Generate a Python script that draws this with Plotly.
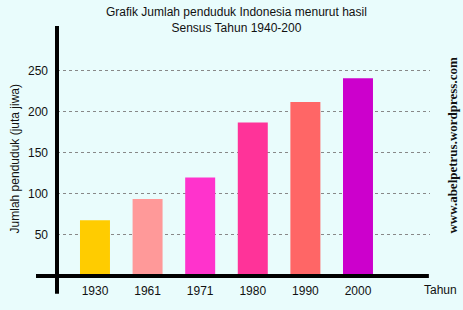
import plotly.graph_objects as go

years = ["1930", "1961", "1971", "1980", "1990", "2000"]
population = [68, 94, 120, 187, 212, 241]
bar_colors = ["#FFCC00", "#FF9999", "#FF33CC", "#FF3399", "#FF6666", "#CC00CC"]
y_ticks = [50, 100, 150, 200, 250]

bg = "#E9FCFC"
font = "Liberation Sans, Arial, sans-serif"

fig = go.Figure(go.Bar(
    x=list(range(len(years))), y=population,
    marker=dict(color=bar_colors, line=dict(width=0)),
    width=0.57,
))

fig.update_layout(
    width=463, height=310,
    margin=dict(l=57, r=33, t=26, b=31),
    paper_bgcolor=bg, plot_bgcolor=bg,
    showlegend=False,
    font=dict(family=font, size=12, color="#111111"),
    xaxis=dict(range=[-0.722, 6.369], tickvals=list(range(len(years))), ticktext=years,
               showgrid=False, zeroline=False, showline=False, ticks="",
               ticklabelstandoff=6, tickfont=dict(size=12)),
    yaxis=dict(range=[0, 304.8], tickvals=y_ticks, showgrid=True, gridcolor="#888888",
               griddash="dot", gridwidth=1, zeroline=False, showline=False, ticks="",
               ticklabelstandoff=8, tickfont=dict(size=12)),
    shapes=[
        dict(type="line", xref="paper", yref="paper", x0=0, x1=0, y0=-0.071, y1=1,
             line=dict(color="black", width=4)),
        dict(type="line", xref="paper", yref="paper", x0=-0.0563, x1=0.997, y0=0, y1=0,
             line=dict(color="black", width=4)),
    ],
    annotations=[
        dict(text="Grafik Jumlah penduduk Indonesia menurut hasil<br>Sensus Tahun 1940-200",
             xref="paper", yref="paper", x=(236 - 57) / 373, y=1 + (26 - 20) / 253,
             xanchor="center", yanchor="middle", showarrow=False,
             font=dict(size=12, family=font, color="#111111")),
        dict(text="Jumlah penduduk (juta jiwa)", textangle=-90,
             xref="paper", yref="paper", x=(15 - 57) / 373, y=(279 - 161) / 253,
             xanchor="center", yanchor="middle", showarrow=False,
             font=dict(size=12, family=font, color="#111111")),
        dict(text="Tahun", xref="paper", yref="paper", x=(440 - 57) / 373, y=-(293 - 279) / 253,
             xanchor="center", yanchor="middle", showarrow=False,
             font=dict(size=12, family=font, color="#111111")),
        dict(text="<b>www.abelpetrus.wordpress.com</b>", textangle=-90,
             xref="paper", yref="paper", x=(453 - 57) / 373, y=(279 - 147) / 253,
             xanchor="center", yanchor="middle", showarrow=False,
             font=dict(size=13, family="Liberation Serif, Times New Roman, serif", color="#111111")),
    ],
)

fig.write_html("out.html")
